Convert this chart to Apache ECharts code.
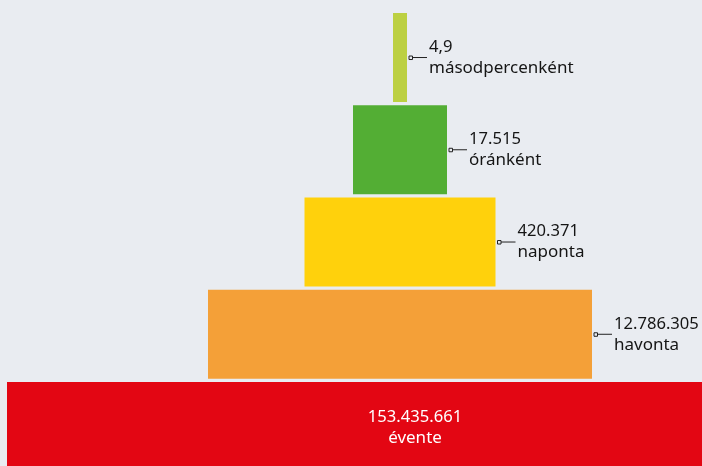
<!DOCTYPE html>
<html><head><meta charset="utf-8">
<script src="https://cdn.jsdelivr.net/npm/echarts@6/dist/echarts.min.js"></script>
<style>html,body{margin:0;padding:0;background:#e9ecf1;}#c{width:702px;height:466px;}</style>
</head><body><div id="c"></div>
<script>
// Data
var periods = ['másodpercenként', 'óránként', 'naponta', 'havonta', 'évente'];
var valueLabels = ['4,9', '17.515', '420.371', '12.786.305', '153.435.661'];
var stepWidths = [14, 94, 191, 384, 786]; // relative pyramid step widths
var colors = ['#bcd042', '#53ae34', '#ffd10c', '#f4a038', '#e30613'];

var chart = echarts.init(document.getElementById('c'), null, {renderer: 'canvas'});
var seriesData = periods.map(function (p, i) { return [i, stepWidths[i]]; });

function richFor(color) {
  return {
    n: {fontFamily: 'Noto Sans', fontSize: 16.6, fill: color, lineHeight: 21},
    w: {fontFamily: 'Noto Sans', fontSize: 17, fill: color, lineHeight: 21}
  };
}

chart.setOption({
  backgroundColor: '#e9ecf1',
  animation: false,
  grid: {left: 0, right: 0, top: 11.4, bottom: 0},
  xAxis: {type: 'value', min: -400, max: 302, show: false},
  yAxis: {type: 'value', min: 0, max: 4.928, inverse: true, show: false},
  series: [{
    type: 'custom',
    data: seriesData,
    clip: false,
    renderItem: function (params, api) {
      var i = api.value(0), w = api.value(1);
      var p0 = api.coord([-w / 2, i + 0.018]);
      var p1 = api.coord([w / 2, i + 0.982]);
      var cy = (p0[1] + p1[1]) / 2;
      var children = [{
        type: 'rect',
        shape: {x: p0[0], y: p0[1], width: p1[0] - p0[0], height: p1[1] - p0[1]},
        style: {fill: colors[i]}
      }];
      var txt = '{n|' + valueLabels[i] + '}\n{w|' + periods[i] + '}';
      if (i < periods.length - 1) {
        var rx = p1[0];
        children.push({
          type: 'rect',
          shape: {x: rx + 2, y: cy - 1.5, width: 3.5, height: 3.5},
          style: {fill: '#e9ecf1', stroke: '#222', lineWidth: 1}
        });
        children.push({
          type: 'line',
          shape: {x1: rx + 5.5, y1: cy, x2: rx + 20, y2: cy},
          style: {stroke: '#222', lineWidth: 1}
        });
        children.push({
          type: 'text',
          style: {
            x: rx + 22, y: cy,
            text: txt, rich: richFor('#151515'),
            align: 'left', verticalAlign: 'middle'
          }
        });
      } else {
        var lx = api.coord([15, i])[0];
        children.push({
          type: 'text',
          style: {
            x: lx, y: cy + 1,
            text: txt, rich: richFor('#ffffff'),
            align: 'center', verticalAlign: 'middle'
          }
        });
      }
      return {type: 'group', children: children};
    }
  }]
});
</script></body></html>
